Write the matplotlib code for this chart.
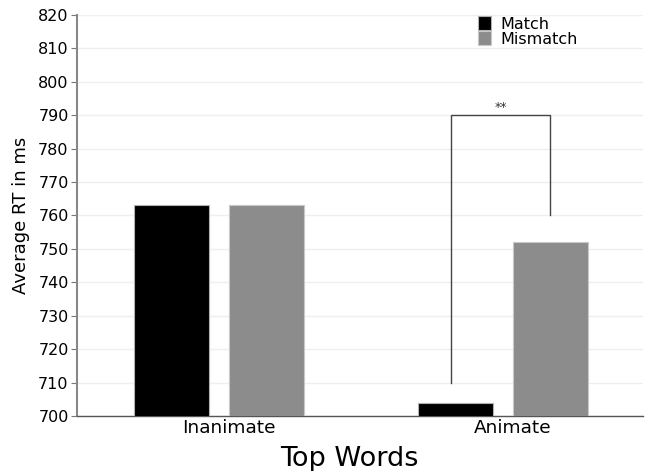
import matplotlib
matplotlib.use("Agg")
import matplotlib.pyplot as plt
import numpy as np

categories = ["Inanimate", "Animate"]
match_rt = [763, 704]
mismatch_rt = [763, 752]
series_names = ["Match", "Mismatch"]
yticks = list(range(700, 821, 10))

fig = plt.figure(figsize=(6.48, 4.71), dpi=100)
ax = fig.add_axes([0.1188, 0.1168, 0.8735, 0.8514])

x = np.arange(len(categories))
w = 0.264
off = 0.167
ax.bar(x - off, match_rt, width=w, color="#000000", edgecolor="#b0b0b0",
       linewidth=0.8, label=series_names[0], zorder=3)
ax.bar(x + off, mismatch_rt, width=w, color="#8c8c8c", edgecolor="#c8c8c8",
       linewidth=0.8, label=series_names[1], zorder=3)

ax.set_ylim(700, 820)
ax.set_xlim(-0.5, 1.493)
ax.set_yticks(yticks)
ax.set_xticks(x + 0.035)
ax.set_xticklabels(categories, fontsize=13.3)
ax.tick_params(axis="y", labelsize=11.5, length=4, color="#777777", pad=2)
ax.tick_params(axis="x", length=0, pad=2)
ax.grid(axis="y", color="#efefef", linewidth=1, zorder=0)

for s in ["top", "right"]:
    ax.spines[s].set_visible(False)
ax.spines["left"].set_color("#888888")
ax.spines["left"].set_linewidth(1.5)
ax.spines["bottom"].set_color("#555555")
ax.spines["bottom"].set_linewidth(1)

ax.set_ylabel("Average RT in ms", fontsize=13, labelpad=6)
ax.set_xlabel("Top Words", fontsize=19.5)
ax.xaxis.set_label_coords(0.482, -0.075, transform=ax.transAxes)
ax.xaxis.label.set_va("top")

# significance bracket over the Animate pair
bx1 = x[1] - 0.183
bx2 = x[1] + off
ax.plot([bx1, bx1, bx2, bx2], [710, 790, 790, 760], color="#444444",
        linewidth=1, zorder=4)
ax.text((bx1 + bx2) / 2, 790.3, "**", ha="center", va="bottom",
        fontsize=9, color="#333333")

leg = ax.legend(loc="upper right", bbox_to_anchor=(0.905, 1.025), frameon=False,
                fontsize=11.5, handlelength=0.8, handleheight=1.0,
                handletextpad=0.6, labelspacing=-0.05, borderpad=0.2)

fig.savefig("out.png", dpi=100)
